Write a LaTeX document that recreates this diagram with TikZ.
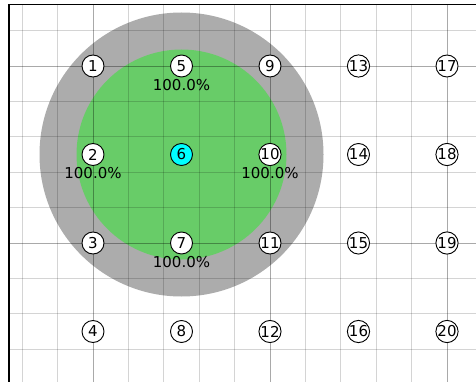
\documentclass[tikz,border=0pt]{standalone}
\usepackage{fontspec}
\setmainfont{DejaVu Sans}
\definecolor{ringgray}{RGB}{172,172,172}
\definecolor{zonegreen}{RGB}{104,204,104}
\definecolor{centercyan}{RGB}{0,255,255}
\begin{document}
\begin{tikzpicture}[x=1pt,y=-1pt,
  cell/.style={circle,draw=black,line width=0.9pt,fill=white,minimum size=22pt,inner sep=0pt,font=\fontsize{15}{15}\selectfont},
  centercell/.style={cell,fill=centercyan},
  pct/.style={font=\fontsize{15}{15}\selectfont,inner sep=0pt},
  minorgrid/.style={draw=black,draw opacity=0.17,line width=0.9pt},
  majorgrid/.style={draw=black,draw opacity=0.2,line width=0.9pt},
  frame/.style={draw=black,line width=1.2pt}]
\useasboundingbox (0,0) rectangle (476,382);
\fill[white] (0,0) rectangle (476,382);
\coordinate (c6) at (181.5,154.5);
\fill[ringgray] (c6) circle[radius=142pt];
\fill[zonegreen] (c6) circle[radius=105pt];
\begin{scope}
\clip (9,4.3) rectangle (476,382);
\foreach \k in {-2,...,10} {
  \pgfmathsetmacro\xx{93+35.4*\k}
  \draw[minorgrid] (\xx,4.3) -- (\xx,382);
}
\foreach \k in {-1,...,9} {
  \pgfmathsetmacro\yy{66+35.4*\k}
  \draw[minorgrid] (9,\yy) -- (476,\yy);
}
\foreach \xx in {93,270,447} {
  \draw[majorgrid] (\xx,4.3) -- (\xx,382);
}
\foreach \yy in {66,243} {
  \draw[majorgrid] (9,\yy) -- (476,\yy);
}
\end{scope}
\coordinate (tl) at (9,4.3);
\coordinate (tr) at (476,4.3);
\coordinate (bl) at (9,382);
\draw[frame] (bl) -- (tl) -- (tr);
\foreach \c in {0,...,4} {
  \foreach \r in {0,...,3} {
    \pgfmathtruncatemacro\num{\c*4+\r+1}
    \ifnum\num=6
      \node[centercell] (n\num) at (93+88.5*\c,66+88.5*\r) {\num};
    \else
      \node[cell] (n\num) at (93+88.5*\c,66+88.5*\r) {\num};
    \fi
  }
}
\node[pct] (p2) at ([yshift=-19pt]n2.center) {100.0\%};
\node[pct] (p5) at ([yshift=-19pt]n5.center) {100.0\%};
\node[pct] (p7) at ([yshift=-19pt]n7.center) {100.0\%};
\node[pct] (p10) at ([yshift=-19pt]n10.center) {100.0\%};
\end{tikzpicture}
\end{document}
